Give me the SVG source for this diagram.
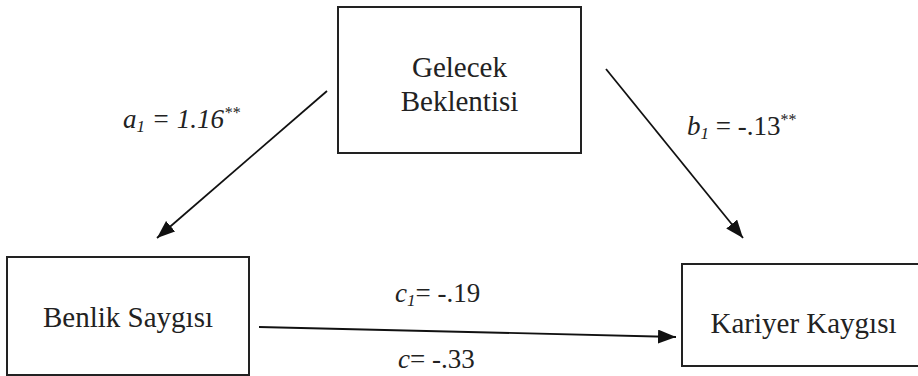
<svg xmlns="http://www.w3.org/2000/svg" width="918" height="376" viewBox="0 0 918 376">
<style>
.box{fill:#fff;stroke:#222;stroke-width:2}
.t{font-family:"Liberation Serif","Times New Roman",serif;font-size:29px;fill:#222}
.lbl{font-family:"Liberation Serif","Times New Roman",serif;font-size:27px;fill:#222}
.it{font-style:italic}
.sub{font-size:17px}
.sup{font-size:16px}
.edge{stroke:#111;stroke-width:1.8;fill:none}
</style>
<defs>
<marker id="ah" markerUnits="userSpaceOnUse" markerWidth="20" markerHeight="16" refX="18" refY="7" orient="auto">
<path d="M0,0 L18,7 L0,14 z" fill="#111"/>
</marker>
</defs>
<rect width="918" height="376" fill="#fff"/>
<g id="connectors">
<line class="edge" x1="327" y1="91" x2="157" y2="238" marker-end="url(#ah)"/>
<line class="edge" x1="606" y1="69" x2="743" y2="238" marker-end="url(#ah)"/>
<line class="edge" x1="259" y1="327" x2="676" y2="337" marker-end="url(#ah)"/>
</g>
<g id="node-gelecek">
<rect class="box" x="338" y="7" width="243" height="146"/>
<text class="t" x="459.5" y="77" text-anchor="middle">Gelecek</text>
<text class="t" x="459.5" y="111" text-anchor="middle">Beklentisi</text>
</g>
<g id="node-benlik">
<rect class="box" x="7" y="257" width="242" height="118"/>
<text class="t" x="128" y="327" text-anchor="middle">Benlik Saygısı</text>
</g>
<g id="node-kariyer">
<rect class="box" x="682" y="264" width="243" height="102"/>
<text class="t" x="803.5" y="333" text-anchor="middle">Kariyer Kaygısı</text>
</g>
<g id="labels">
<text class="lbl it" x="123" y="128">a<tspan class="sub" dy="4">1</tspan><tspan dy="-4"> = 1.16</tspan><tspan class="sup" dy="-10">**</tspan></text>
<text class="lbl" x="687" y="135"><tspan class="it">b</tspan><tspan class="sub it" dy="4">1</tspan><tspan dy="-4"> = -.13</tspan><tspan class="sup" dy="-10">**</tspan></text>
<text class="lbl" x="395" y="302"><tspan class="it">c</tspan><tspan class="sub it" dy="4">1</tspan><tspan dy="-4">= -.19</tspan></text>
<text class="lbl" x="398" y="368"><tspan class="it">c</tspan>= -.33</text>
</g>
</svg>
